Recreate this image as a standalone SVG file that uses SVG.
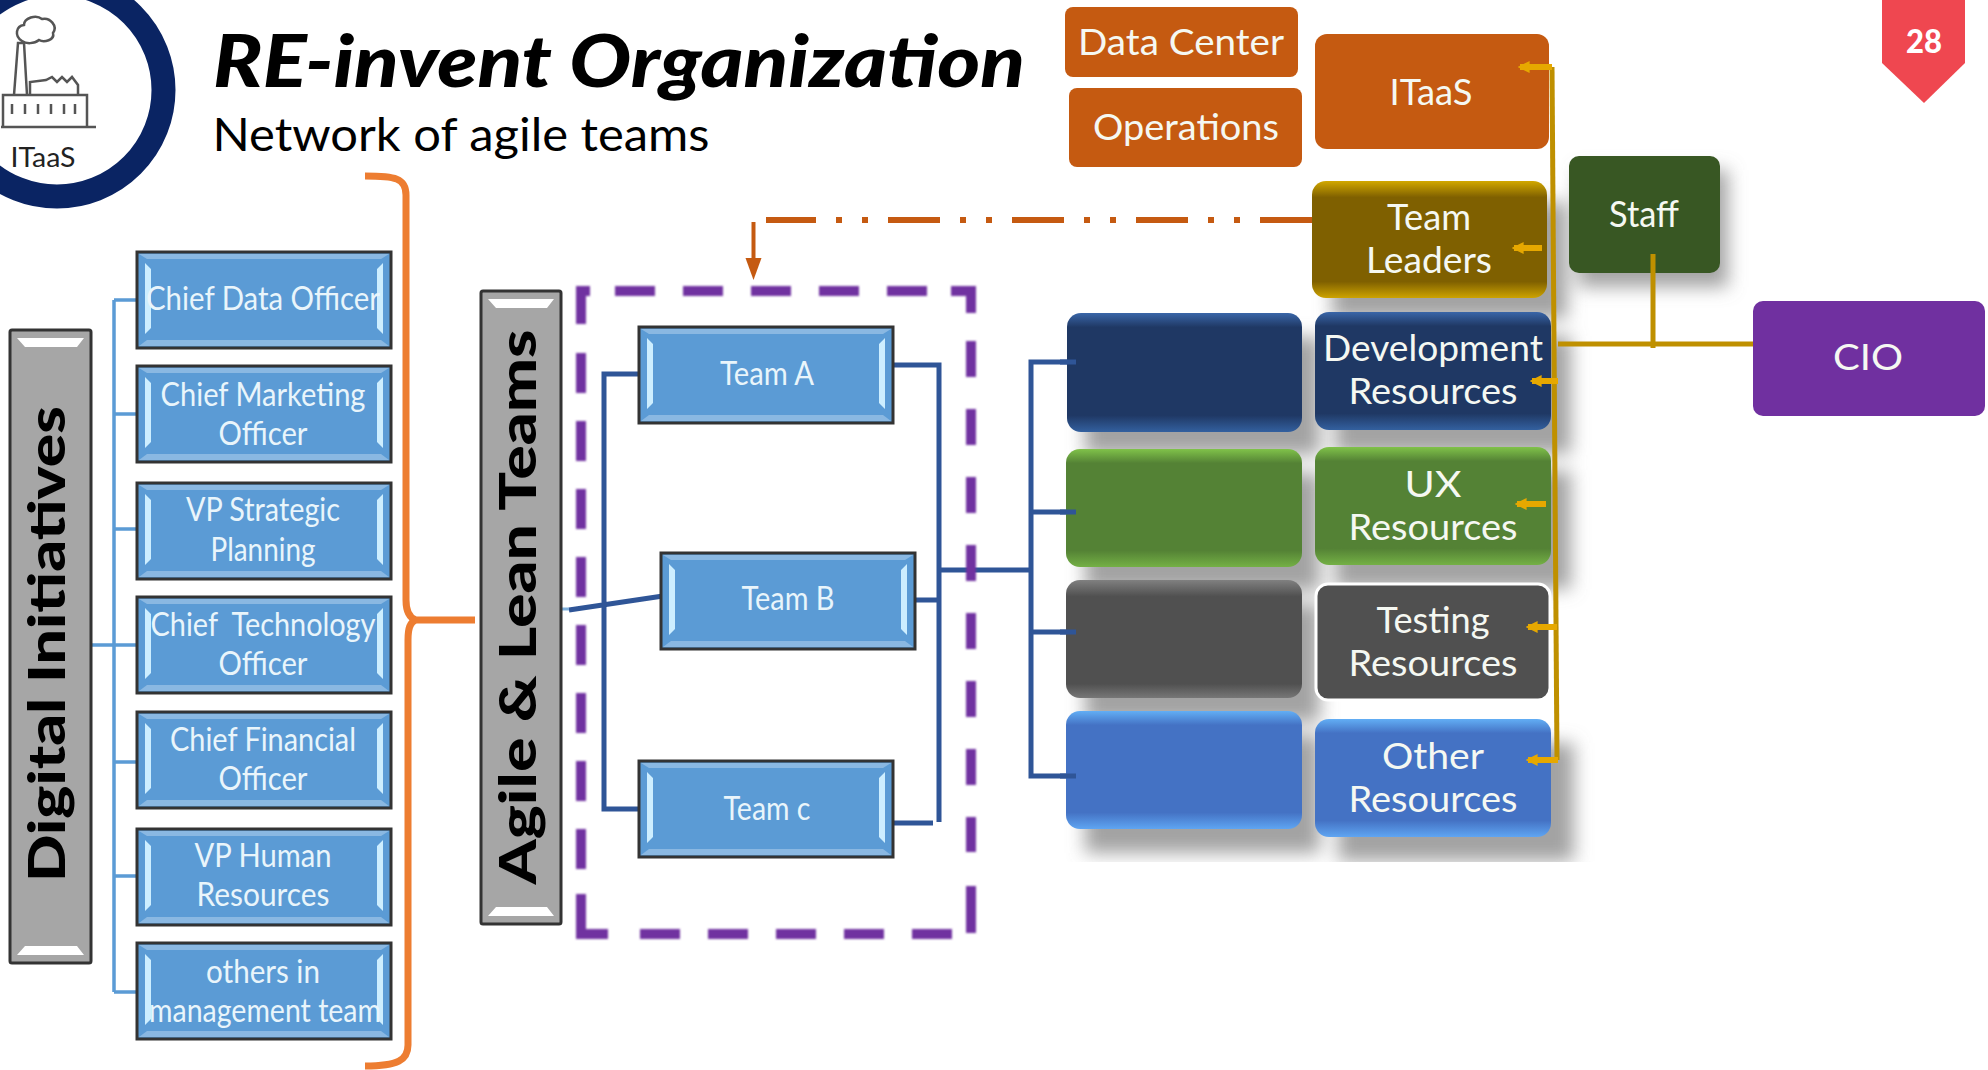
<svg xmlns="http://www.w3.org/2000/svg" xmlns:xlink="http://www.w3.org/1999/xlink" width="1988" height="1070" viewBox="0 0 1988 1070">
<style>
text{font-family:Lato,"Liberation Sans",sans-serif;text-anchor:middle}
.w{fill:#e9f5fb;font-size:33px}
.r{fill:#f5f8f2;font-size:36px}
.v{fill:#000;font-weight:900;font-size:52px}
.bx{fill:#5b9bd5;stroke:#333;stroke-width:3}
.gy{fill:#a6a6a6;stroke:#333;stroke-width:3}
.lb{stroke:#5b9bd5;stroke-width:3.5;fill:none}
.nv{stroke:#2f5597;stroke-width:5;fill:none}
.gd{stroke:#bf9000;stroke-width:5;fill:none}
.ar{stroke:#e6a800;stroke-width:6;fill:none;marker-start:url(#ga)}
.pu{stroke:#7030a0;stroke-width:10;fill:none}
.ic{stroke:#555;stroke-width:2.5;fill:none}
</style>
<defs>
<filter id="soft" filterUnits="userSpaceOnUse" x="560" y="270" width="430" height="690"><feGaussianBlur stdDeviation="1.1"/></filter>
<filter id="sh" filterUnits="userSpaceOnUse" x="1040" y="140" width="720" height="760"><feGaussianBlur stdDeviation="9"/></filter>
<clipPath id="shc"><rect x="0" y="0" width="1988" height="862"/></clipPath>
<marker id="ga" markerWidth="2" markerHeight="2" refX="1.6" refY="1" orient="auto-start-reverse"><path d="M0,0 L2,1 L0,2 Z" fill="#e6a800"/></marker>
<linearGradient id="gNavy" x1="0" y1="0" x2="0" y2="1"><stop offset="0" stop-color="#3a66a8"/><stop offset=".12" stop-color="#1f3864"/><stop offset=".86" stop-color="#1f3864"/><stop offset="1" stop-color="#33609f"/></linearGradient>
<linearGradient id="gGreen" x1="0" y1="0" x2="0" y2="1"><stop offset="0" stop-color="#80c24a"/><stop offset=".12" stop-color="#548235"/><stop offset=".86" stop-color="#548235"/><stop offset="1" stop-color="#74b045"/></linearGradient>
<linearGradient id="gGray" x1="0" y1="0" x2="0" y2="1"><stop offset="0" stop-color="#808080"/><stop offset=".14" stop-color="#505050"/><stop offset=".88" stop-color="#505050"/><stop offset="1" stop-color="#777"/></linearGradient>
<linearGradient id="gBlue" x1="0" y1="0" x2="0" y2="1"><stop offset="0" stop-color="#62aef5"/><stop offset=".12" stop-color="#4472c4"/><stop offset=".86" stop-color="#4472c4"/><stop offset="1" stop-color="#5fa5f2"/></linearGradient>
<linearGradient id="gGold" x1="0" y1="0" x2="0" y2="1"><stop offset="0" stop-color="#d2a800"/><stop offset=".14" stop-color="#7f6000"/><stop offset=".86" stop-color="#7f6000"/><stop offset="1" stop-color="#cda300"/></linearGradient>
<g id="bevel">
<rect x="2" y="2" width="250" height="92" fill="#5b9bd5"/>
<path d="M2,2H252L244,7H10ZM2,94H252L244,88H10Z" fill="#8ab8e2"/>
<path d="M8,11L14,17V76L8,82ZM246,11L240,17V76L246,82Z" fill="#cdeeff"/>
</g>
</defs>
<rect width="1988" height="1070" fill="#fff"/>

<g id="logo">
<circle cx="57" cy="90" r="106.5" fill="#fff" stroke="#0a2463" stroke-width="24"/>
<path class="ic" d="M14,95L18,43H24L27,95M3,95H87V127H3ZM1,127H96M30,95V82L46,80L52,77L57,82L62,77L67,82L72,77L78,85V95"/>
<path class="ic" d="M22,41C14,36 16,26 24,25C24,18 36,14 42,19C50,17 58,26 53,33C55,40 44,43 39,40C34,44 26,44 22,41Z"/>
<path class="ic" stroke-width="3" d="M12,104V114M25,104V114M38,104V114M51,104V114M64,104V114M75,104V114"/>
<text x="43" y="167" font-size="27" fill="#222" textLength="65" lengthAdjust="spacingAndGlyphs">ITaaS</text>
</g>

<g id="title">
<text x="619" y="87" font-size="72" font-weight="900" font-style="italic" fill="#000" textLength="812" lengthAdjust="spacingAndGlyphs">RE-invent Organization</text>
<text x="461" y="151" font-size="47" fill="#000" textLength="497" lengthAdjust="spacingAndGlyphs">Network of agile teams</text>
</g>

<g id="badge-28">
<path d="M1882,0H1965V63L1924,103L1882,63Z" fill="#ef4750"/>
<text x="1924" y="53" font-size="32" font-weight="900" fill="#fff" textLength="36" lengthAdjust="spacingAndGlyphs">28</text>
</g>

<g id="shadows" clip-path="url(#shc)">
<g fill="#808080" fill-opacity=".72" filter="url(#sh)">
<rect x="1332" y="202" width="235" height="117"/>
<rect x="1578" y="170" width="150" height="117"/>
<rect x="1085" y="337" width="235" height="118"/>
<rect x="1335" y="336" width="236" height="118"/>
<rect x="1085" y="473" width="235" height="118"/>
<rect x="1335" y="471" width="236" height="118"/>
<rect x="1085" y="604" width="235" height="118"/>
<rect x="1085" y="735" width="235" height="118"/>
<rect x="1338" y="743" width="236" height="118"/>
</g>
</g>

<g id="connectors">
<path class="lb" d="M114,300V992M114,300H137M114,414H137M114,529H137M91,645H137M114,762H137M114,876H137M114,992H137"/>
<path class="nv" d="M640,374H604V809H639M569,610L663,596M888,365H939V822M911,600H939M888,823H933M939,570H1031M1076,362H1031V776H1076M1031,512H1076M1031,632H1076"/>
<path d="M561,609H569" stroke="#7fb0dc" stroke-width="3" fill="none"/>
<path d="M365,176C395,176 406,178 406,195V600C406,612 410,618 416,620H475M416,620C410,622 408,628 408,640V1045C408,1060 398,1066 365,1066" stroke="#ed7d31" stroke-width="7" fill="none"/>
<path d="M1312,220H766" stroke="#c55a11" stroke-width="6" stroke-dasharray="52 20 6 20 6 20" fill="none"/>
<path d="M753.500,222V262" stroke="#c55a11" stroke-width="4" fill="none"/>
<path d="M745.500,258H761.500L753.500,280Z" fill="#c55a11"/>
</g>

<g id="dashed-frame" filter="url(#soft)">
<path class="pu" stroke-dasharray="40 28" d="M581,353V872"/>
<path class="pu" stroke-dasharray="36 32" d="M971,341V852"/>
<path class="pu" stroke-dasharray="40 28" d="M615,291H930"/>
<path class="pu" stroke-dasharray="40 28" d="M640,934H952"/>
<path class="pu" d="M590,291H581V324M951,291H971V313M581,894V934H608M971,886V933"/>
</g>

<g id="digital-initiatives">
<rect class="gy" x="10" y="330" width="81" height="633" rx="2"/>
<path d="M17,338H84L77,347H25ZM25,946H77L84,955H17Z" fill="#fff"/>
<text class="v" transform="translate(65,644) rotate(-90)" textLength="476" lengthAdjust="spacingAndGlyphs">Digital Initiatives</text>
</g>

<g id="agile-lean-teams">
<rect class="gy" x="481" y="291" width="80" height="633" rx="2"/>
<path d="M488,299H554L547,308H496ZM496,907H547L554,916H488Z" fill="#fff"/>
<text class="v" transform="translate(536,607) rotate(-90)" textLength="555" lengthAdjust="spacingAndGlyphs">Agile &amp; Lean Teams</text>
</g>

<g id="chief-data-officer"><rect class="bx" x="137" y="252" width="254" height="96"/><use xlink:href="#bevel" x="137" y="252"/><text class="w" x="263" y="310" textLength="234" lengthAdjust="spacingAndGlyphs">Chief Data Officer</text></g>
<g id="chief-marketing-officer"><rect class="bx" x="137" y="366" width="254" height="96"/><use xlink:href="#bevel" x="137" y="366"/><text class="w" x="263" y="406" textLength="205" lengthAdjust="spacingAndGlyphs">Chief Marketing</text><text class="w" x="263" y="445" textLength="89" lengthAdjust="spacingAndGlyphs">Officer</text></g>
<g id="vp-strategic-planning"><rect class="bx" x="137" y="483" width="254" height="96"/><use xlink:href="#bevel" x="137" y="483"/><text class="w" x="263" y="521" textLength="154" lengthAdjust="spacingAndGlyphs">VP Strategic</text><text class="w" x="263" y="561" textLength="105" lengthAdjust="spacingAndGlyphs">Planning</text></g>
<g id="chief-technology-officer"><rect class="bx" x="137" y="597" width="254" height="96"/><use xlink:href="#bevel" x="137" y="597"/><text class="w" x="263" y="636" textLength="225" lengthAdjust="spacingAndGlyphs" xml:space="preserve">Chief  Technology</text><text class="w" x="263" y="675" textLength="89" lengthAdjust="spacingAndGlyphs">Officer</text></g>
<g id="chief-financial-officer"><rect class="bx" x="137" y="712" width="254" height="96"/><use xlink:href="#bevel" x="137" y="712"/><text class="w" x="263" y="751" textLength="186" lengthAdjust="spacingAndGlyphs">Chief Financial</text><text class="w" x="263" y="790" textLength="89" lengthAdjust="spacingAndGlyphs">Officer</text></g>
<g id="vp-human-resources"><rect class="bx" x="137" y="829" width="254" height="96"/><use xlink:href="#bevel" x="137" y="829"/><text class="w" x="263" y="867" textLength="137" lengthAdjust="spacingAndGlyphs">VP Human</text><text class="w" x="263" y="906" textLength="133" lengthAdjust="spacingAndGlyphs">Resources</text></g>
<g id="others-management"><rect class="bx" x="137" y="943" width="254" height="96"/><use xlink:href="#bevel" x="137" y="943"/><text class="w" x="263" y="983" textLength="114" lengthAdjust="spacingAndGlyphs">others in</text><text class="w" x="265" y="1022" textLength="232" lengthAdjust="spacingAndGlyphs">management team</text></g>

<g id="team-a"><rect class="bx" x="639" y="327" width="254" height="96"/><use xlink:href="#bevel" x="639" y="327"/><text class="w" x="767" y="385" textLength="94" lengthAdjust="spacingAndGlyphs">Team A</text></g>
<g id="team-b"><rect class="bx" x="661" y="553" width="254" height="96"/><use xlink:href="#bevel" x="661" y="553"/><text class="w" x="788" y="610" textLength="93" lengthAdjust="spacingAndGlyphs">Team B</text></g>
<g id="team-c"><rect class="bx" x="639" y="761" width="254" height="96"/><use xlink:href="#bevel" x="639" y="761"/><text class="w" x="767" y="820" textLength="87" lengthAdjust="spacingAndGlyphs">Team c</text></g>

<g id="blank-navy"><rect x="1067" y="313" width="235" height="119" rx="14" fill="url(#gNavy)"/></g>
<g id="blank-green"><rect x="1066" y="449" width="236" height="118" rx="14" fill="url(#gGreen)"/></g>
<g id="blank-gray"><rect x="1066" y="580" width="236" height="118" rx="14" fill="url(#gGray)"/></g>
<g id="blank-blue"><rect x="1066" y="711" width="236" height="118" rx="14" fill="url(#gBlue)"/></g>
<path class="nv" d="M1060,362H1076M1060,512H1076M1060,632H1076M1060,776H1076"/>

<g id="data-center"><rect x="1065" y="7" width="233" height="70" rx="8" fill="#c55a11"/><text class="r" x="1181" y="55" textLength="206" lengthAdjust="spacingAndGlyphs">Data Center</text></g>
<g id="operations"><rect x="1069" y="88" width="233" height="79" rx="8" fill="#c55a11"/><text class="r" x="1186" y="140" textLength="186" lengthAdjust="spacingAndGlyphs">Operations</text></g>
<g id="itaas"><rect x="1315" y="34" width="234" height="115" rx="12" fill="#c55a11"/><text class="r" x="1431" y="105" textLength="83" lengthAdjust="spacingAndGlyphs">ITaaS</text></g>
<g id="team-leaders"><rect x="1312" y="181" width="235" height="117" rx="14" fill="url(#gGold)"/><text class="r" x="1429" y="230" textLength="84" lengthAdjust="spacingAndGlyphs">Team</text><text class="r" x="1429" y="273" textLength="126" lengthAdjust="spacingAndGlyphs">Leaders</text></g>
<g id="staff"><rect x="1569" y="156" width="151" height="117" rx="10" fill="#385723"/><text class="r" x="1644" y="227" textLength="70" lengthAdjust="spacingAndGlyphs">Staff</text></g>
<g id="cio"><rect x="1753" y="301" width="232" height="115" rx="10" fill="#7030a0"/><text class="r" x="1868" y="370" textLength="70" lengthAdjust="spacingAndGlyphs">CIO</text></g>
<g id="development-resources"><rect x="1315" y="312" width="236" height="118" rx="14" fill="url(#gNavy)"/><text class="r" x="1433" y="361" textLength="220" lengthAdjust="spacingAndGlyphs">Development</text><text class="r" x="1433" y="404" textLength="169" lengthAdjust="spacingAndGlyphs">Resources</text></g>
<g id="ux-resources"><rect x="1315" y="447" width="236" height="118" rx="14" fill="url(#gGreen)"/><text class="r" x="1433" y="497" textLength="57" lengthAdjust="spacingAndGlyphs">UX</text><text class="r" x="1433" y="540" textLength="169" lengthAdjust="spacingAndGlyphs">Resources</text></g>
<g id="testing-resources"><rect x="1316" y="584" width="234" height="116" rx="12" fill="#505050" stroke="#fff" stroke-width="3"/><text class="r" x="1433" y="633" textLength="113" lengthAdjust="spacingAndGlyphs">Testing</text><text class="r" x="1433" y="676" textLength="169" lengthAdjust="spacingAndGlyphs">Resources</text></g>
<g id="other-resources"><rect x="1315" y="719" width="236" height="118" rx="14" fill="url(#gBlue)"/><text class="r" x="1433" y="769" textLength="102" lengthAdjust="spacingAndGlyphs">Other</text><text class="r" x="1433" y="812" textLength="169" lengthAdjust="spacingAndGlyphs">Resources</text></g>

<g id="gold-connectors">
<path class="gd" d="M1552,67L1557,760"/>
<path class="gd" stroke-width="6" d="M1558,344H1753"/>
<path class="gd" d="M1653,254V348"/>
<path class="ar" d="M1520,67H1552"/>
<path class="ar" d="M1514,248H1542"/>
<path class="ar" d="M1532,381H1558"/>
<path class="ar" d="M1517,504H1546"/>
<path class="ar" d="M1528,627H1557"/>
<path class="ar" d="M1528,760H1558"/>
</g>
</svg>
